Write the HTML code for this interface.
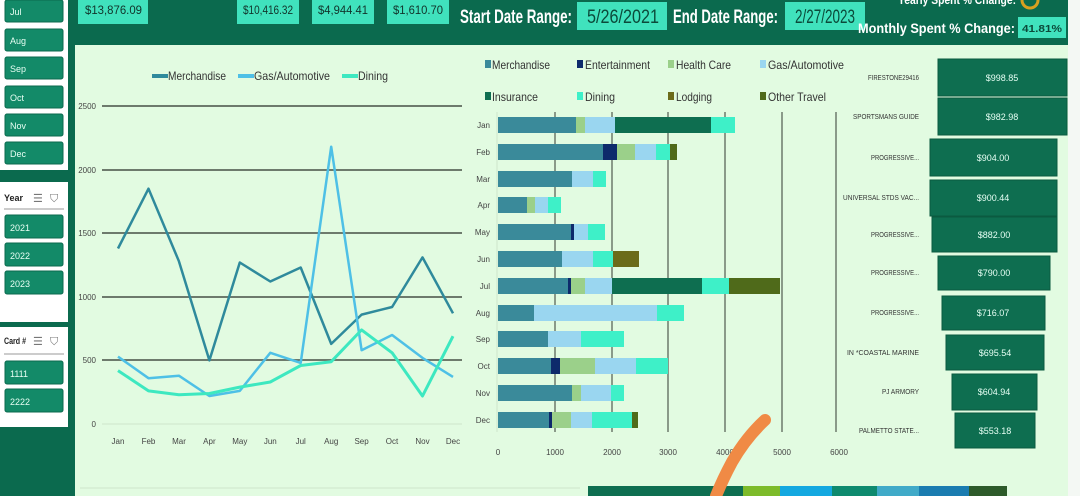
<!DOCTYPE html>
<html><head><meta charset="utf-8"><style>
html,body{margin:0;padding:0;background:#0b6a4e;}
svg{display:block;font-family:"Liberation Sans Narrow","Liberation Sans",sans-serif;}
</style></head><body>
<svg width="1080" height="496" viewBox="0 0 1080 496" xmlns="http://www.w3.org/2000/svg">
<rect width="1080" height="496" fill="#0b6a4e"/>
<rect x="75" y="45" width="993" height="451" fill="#e2fbe1"/>
<rect x="1068" y="0" width="12" height="496" fill="#f4f8f4"/>
<rect x="0" y="0" width="68" height="170" fill="#ffffff"/>
<rect x="0" y="182" width="68" height="140" fill="#ffffff"/>
<rect x="0" y="327" width="68" height="100" fill="#ffffff"/>
<g fill="#138a68" stroke="#0b6a4e" stroke-width="1">
<rect x="5" y="0" width="58" height="22" rx="2"/>
<rect x="5" y="29" width="58" height="22" rx="2"/>
<rect x="5" y="57" width="58" height="22" rx="2"/>
<rect x="5" y="86" width="58" height="22" rx="2"/>
<rect x="5" y="114" width="58" height="22" rx="2"/>
<rect x="5" y="142" width="58" height="22" rx="2"/>
<rect x="5" y="215" width="58" height="23" rx="2"/>
<rect x="5" y="243" width="58" height="23" rx="2"/>
<rect x="5" y="271" width="58" height="23" rx="2"/>
<rect x="5" y="361" width="58" height="23" rx="2"/>
<rect x="5" y="389" width="58" height="23" rx="2"/>
</g>
<g fill="#e8fff4" font-size="9">
<text x="10" y="15">Jul</text><text x="10" y="44">Aug</text><text x="10" y="72">Sep</text>
<text x="10" y="101">Oct</text><text x="10" y="129">Nov</text><text x="10" y="157">Dec</text>
<text x="10" y="231">2021</text><text x="10" y="259">2022</text><text x="10" y="287">2023</text>
<text x="10" y="377">1111</text><text x="10" y="405">2222</text>
</g>
<g font-size="9" font-weight="bold" fill="#222">
<text x="4" y="201">Year</text><text x="4" y="344" textLength="22" lengthAdjust="spacingAndGlyphs">Card #</text>
</g>
<g font-size="11" fill="#777"><text x="33" y="202">☰</text><text x="50" y="202">⛉</text><text x="33" y="345">☰</text><text x="50" y="345">⛉</text></g>
<line x1="4" y1="209" x2="64" y2="209" stroke="#ccc" stroke-width="2"/>
<line x1="4" y1="354" x2="64" y2="354" stroke="#ccc" stroke-width="2"/>

<g fill="#40e2bd">
<rect x="78" y="0" width="70" height="24"/><rect x="237" y="0" width="62" height="24"/>
<rect x="312" y="0" width="62" height="24"/><rect x="387" y="0" width="62" height="24"/>
<rect x="577" y="2" width="90" height="28"/><rect x="785" y="2" width="80" height="28"/>
<rect x="1018" y="17" width="48" height="21"/>
</g>
<g fill="#11332a" font-size="12">
<text x="85" y="14" textLength="57" lengthAdjust="spacingAndGlyphs">$13,876.09</text>
<text x="243" y="14" textLength="50" lengthAdjust="spacingAndGlyphs">$10,416.32</text>
<text x="318" y="14" textLength="50" lengthAdjust="spacingAndGlyphs">$4,944.41</text>
<text x="393" y="14" textLength="50" lengthAdjust="spacingAndGlyphs">$1,610.70</text></g>
<g fill="#0b4a3a" font-size="19">
<text x="587" y="23" textLength="72" lengthAdjust="spacingAndGlyphs">5/26/2021</text>
<text x="795" y="23" textLength="60" lengthAdjust="spacingAndGlyphs">2/27/2023</text></g>
<text x="1022" y="32" fill="#0b4a3a" font-size="10" font-weight="bold" textLength="40" lengthAdjust="spacingAndGlyphs">41.81%</text>
<g fill="#ffffff" font-weight="bold">
<text x="460" y="23" font-size="19" textLength="112" lengthAdjust="spacingAndGlyphs">Start Date Range:</text>
<text x="673" y="23" font-size="19" textLength="105" lengthAdjust="spacingAndGlyphs">End Date Range:</text>
<text x="858" y="33" font-size="14" textLength="157" lengthAdjust="spacingAndGlyphs">Monthly Spent % Change:</text>
<text x="898" y="4" font-size="12" textLength="118" lengthAdjust="spacingAndGlyphs">Yearly Spent % Change:</text></g>
<circle cx="1030" cy="0" r="8" fill="none" stroke="#d8a020" stroke-width="3"/>

<g stroke="#6d7a6c" stroke-width="2">
<line x1="102" y1="106" x2="462" y2="106"/><line x1="102" y1="170" x2="462" y2="170"/>
<line x1="102" y1="233" x2="462" y2="233"/><line x1="102" y1="297" x2="462" y2="297"/>
<line x1="102" y1="360" x2="462" y2="360"/></g>
<line x1="102" y1="424" x2="462" y2="424" stroke="#cfe6cc" stroke-width="1"/>
<g font-size="8" fill="#444" text-anchor="end"><text x="96" y="109">2500</text><text x="96" y="173">2000</text><text x="96" y="236">1500</text><text x="96" y="300">1000</text><text x="96" y="363">500</text><text x="96" y="427">0</text></g>
<g font-size="8" fill="#444" text-anchor="middle">
<text x="118" y="444">Jan</text><text x="148.5" y="444">Feb</text><text x="179" y="444">Mar</text><text x="209.4" y="444">Apr</text><text x="239.8" y="444">May</text><text x="270.3" y="444">Jun</text><text x="300.7" y="444">Jul</text><text x="331.2" y="444">Aug</text><text x="361.6" y="444">Sep</text><text x="392" y="444">Oct</text><text x="422.5" y="444">Nov</text><text x="453" y="444">Dec</text></g>
<g fill="none" stroke-linejoin="round">
<polyline stroke="#2f8a9c" stroke-width="2.5" points="118,248.5 148.5,188.7 178.9,261.2 209.4,360.4 239.8,262.5 270.3,281.5 300.7,267.5 331.2,343.9 361.6,314.6 392.1,307 422.5,257.4 453,313.3"/>
<polyline stroke="#4ec0e6" stroke-width="2.5" points="118,356.6 148.5,378.2 178.9,375.7 209.4,396 239.8,390.9 270.3,352.8 300.7,362.9 331.2,146.7 361.6,350.2 392.1,335 422.5,357.9 453,376.9"/>
<polyline stroke="#3de8c0" stroke-width="3" points="118,370.6 148.5,390.9 178.9,394.7 209.4,393.5 239.8,387.1 270.3,382 300.7,365.5 331.2,361.7 361.6,329.9 392.1,352.8 422.5,396 453,336.2"/>
</g>
<g stroke-width="4"><line x1="152" y1="76" x2="168" y2="76" stroke="#2f8a9c"/><line x1="238" y1="76" x2="254" y2="76" stroke="#4ec0e6"/><line x1="342" y1="76" x2="358" y2="76" stroke="#3de8c0"/></g>
<g font-size="12" fill="#333">
<text x="168" y="80" textLength="58" lengthAdjust="spacingAndGlyphs">Merchandise</text>
<text x="254" y="80" textLength="76" lengthAdjust="spacingAndGlyphs">Gas/Automotive</text>
<text x="358" y="80" textLength="30" lengthAdjust="spacingAndGlyphs">Dining</text></g>

<g font-size="12" fill="#333">
<rect x="485" y="60" width="6" height="8" fill="#3a8a9a"/><text x="492" y="69" textLength="58" lengthAdjust="spacingAndGlyphs">Merchandise</text>
<rect x="577" y="60" width="6" height="8" fill="#0d2a6b"/><text x="585" y="69" textLength="65" lengthAdjust="spacingAndGlyphs">Entertainment</text>
<rect x="668" y="60" width="6" height="8" fill="#9bd08a"/><text x="676" y="69" textLength="55" lengthAdjust="spacingAndGlyphs">Health Care</text>
<rect x="760" y="60" width="6" height="8" fill="#9ad6f0"/><text x="768" y="69" textLength="76" lengthAdjust="spacingAndGlyphs">Gas/Automotive</text>
<rect x="485" y="92" width="6" height="8" fill="#0e6e50"/><text x="492" y="101" textLength="46" lengthAdjust="spacingAndGlyphs">Insurance</text>
<rect x="577" y="92" width="6" height="8" fill="#3ef0c8"/><text x="585" y="101" textLength="30" lengthAdjust="spacingAndGlyphs">Dining</text>
<rect x="668" y="92" width="6" height="8" fill="#6b6b1a"/><text x="676" y="101" textLength="36" lengthAdjust="spacingAndGlyphs">Lodging</text>
<rect x="760" y="92" width="6" height="8" fill="#4f6a1a"/><text x="768" y="101" textLength="58" lengthAdjust="spacingAndGlyphs">Other Travel</text>
</g>
<g stroke="#6d7a6c" stroke-width="1.5"><line x1="555" y1="112" x2="555" y2="432"/><line x1="612" y1="112" x2="612" y2="432"/><line x1="668" y1="112" x2="668" y2="432"/><line x1="725" y1="112" x2="725" y2="432"/><line x1="782" y1="112" x2="782" y2="432"/><line x1="836" y1="112" x2="836" y2="432"/></g>
<line x1="497" y1="112" x2="497" y2="432" stroke="#cfe6cc"/>
<g font-size="8" fill="#444" text-anchor="middle"><text x="498" y="455">0</text><text x="555" y="455">1000</text><text x="612" y="455">2000</text><text x="668" y="455">3000</text><text x="725" y="455">4000</text><text x="782" y="455">5000</text><text x="839" y="455">6000</text></g>
<g font-size="8" fill="#444" text-anchor="end"><text x="490" y="128">Jan</text><text x="490" y="155">Feb</text><text x="490" y="182">Mar</text><text x="490" y="208">Apr</text><text x="490" y="235">May</text><text x="490" y="262">Jun</text><text x="490" y="289">Jul</text><text x="490" y="316">Aug</text><text x="490" y="342">Sep</text><text x="490" y="369">Oct</text><text x="490" y="396">Nov</text><text x="490" y="423">Dec</text></g>
<g>
<rect x="498" y="117" width="78" height="16" fill="#3a8a9a"/><rect x="576" y="117" width="9" height="16" fill="#9bd08a"/><rect x="585" y="117" width="30" height="16" fill="#9ad6f0"/><rect x="615" y="117" width="96" height="16" fill="#0e6e50"/><rect x="711" y="117" width="24" height="16" fill="#3ef0c8"/>
<rect x="498" y="144" width="105" height="16" fill="#3a8a9a"/><rect x="603" y="144" width="14" height="16" fill="#0d2a6b"/><rect x="617" y="144" width="18" height="16" fill="#9bd08a"/><rect x="635" y="144" width="21" height="16" fill="#9ad6f0"/><rect x="656" y="144" width="14" height="16" fill="#3ef0c8"/><rect x="670" y="144" width="7" height="16" fill="#4f6a1a"/>
<rect x="498" y="171" width="74" height="16" fill="#3a8a9a"/><rect x="572" y="171" width="21" height="16" fill="#9ad6f0"/><rect x="593" y="171" width="13" height="16" fill="#3ef0c8"/>
<rect x="498" y="197" width="29" height="16" fill="#3a8a9a"/><rect x="527" y="197" width="8" height="16" fill="#9bd08a"/><rect x="535" y="197" width="13" height="16" fill="#9ad6f0"/><rect x="548" y="197" width="13" height="16" fill="#3ef0c8"/>
<rect x="498" y="224" width="73" height="16" fill="#3a8a9a"/><rect x="571" y="224" width="3" height="16" fill="#0d2a6b"/><rect x="574" y="224" width="14" height="16" fill="#9ad6f0"/><rect x="588" y="224" width="17" height="16" fill="#3ef0c8"/>
<rect x="498" y="251" width="64" height="16" fill="#3a8a9a"/><rect x="562" y="251" width="31" height="16" fill="#9ad6f0"/><rect x="593" y="251" width="20" height="16" fill="#3ef0c8"/><rect x="613" y="251" width="26" height="16" fill="#6b6b1a"/>
<rect x="498" y="278" width="70" height="16" fill="#3a8a9a"/><rect x="568" y="278" width="3" height="16" fill="#0d2a6b"/><rect x="571" y="278" width="14" height="16" fill="#9bd08a"/><rect x="585" y="278" width="27" height="16" fill="#9ad6f0"/><rect x="612" y="278" width="90" height="16" fill="#0e6e50"/><rect x="702" y="278" width="27" height="16" fill="#3ef0c8"/><rect x="729" y="278" width="51" height="16" fill="#4f6a1a"/>
<rect x="498" y="305" width="36" height="16" fill="#3a8a9a"/><rect x="534" y="305" width="123" height="16" fill="#9ad6f0"/><rect x="657" y="305" width="27" height="16" fill="#3ef0c8"/>
<rect x="498" y="331" width="50" height="16" fill="#3a8a9a"/><rect x="548" y="331" width="33" height="16" fill="#9ad6f0"/><rect x="581" y="331" width="43" height="16" fill="#3ef0c8"/>
<rect x="498" y="358" width="53" height="16" fill="#3a8a9a"/><rect x="551" y="358" width="9" height="16" fill="#0d2a6b"/><rect x="560" y="358" width="35" height="16" fill="#9bd08a"/><rect x="595" y="358" width="41" height="16" fill="#9ad6f0"/><rect x="636" y="358" width="32" height="16" fill="#3ef0c8"/>
<rect x="498" y="385" width="74" height="16" fill="#3a8a9a"/><rect x="572" y="385" width="9" height="16" fill="#9bd08a"/><rect x="581" y="385" width="30" height="16" fill="#9ad6f0"/><rect x="611" y="385" width="13" height="16" fill="#3ef0c8"/>
<rect x="498" y="412" width="51" height="16" fill="#3a8a9a"/><rect x="549" y="412" width="3" height="16" fill="#0d2a6b"/><rect x="552" y="412" width="19" height="16" fill="#9bd08a"/><rect x="571" y="412" width="21" height="16" fill="#9ad6f0"/><rect x="592" y="412" width="40" height="16" fill="#3ef0c8"/><rect x="632" y="412" width="6" height="16" fill="#4f6a1a"/>
</g>

<g fill="#0e6e50" stroke="#0b5a40" stroke-width="1">
<rect x="938" y="59" width="129" height="37"/><rect x="938" y="98" width="129" height="37"/>
<rect x="930" y="139" width="127" height="37"/><rect x="930" y="180" width="127" height="36"/>
<rect x="932" y="217" width="125" height="35"/><rect x="938" y="256" width="112" height="34"/>
<rect x="942" y="296" width="103" height="34"/><rect x="946" y="335" width="98" height="35"/>
<rect x="952" y="374" width="85" height="36"/><rect x="955" y="413" width="80" height="35"/>
</g>
<g fill="#e6fff4" font-size="9" text-anchor="middle">
<text x="1002" y="81">$998.85</text><text x="1002" y="120">$982.98</text><text x="993" y="161">$904.00</text><text x="993" y="201">$900.44</text><text x="994" y="238">$882.00</text><text x="994" y="276">$790.00</text><text x="993" y="316">$716.07</text><text x="995" y="356">$695.54</text><text x="994" y="395">$604.94</text><text x="995" y="434">$553.18</text>
</g>
<g fill="#333" font-size="7" text-anchor="end">
<text x="919" y="80" textLength="51" lengthAdjust="spacingAndGlyphs">FIRESTONE29416</text>
<text x="919" y="119" textLength="66" lengthAdjust="spacingAndGlyphs">SPORTSMANS GUIDE</text>
<text x="919" y="160" textLength="48" lengthAdjust="spacingAndGlyphs">PROGRESSIVE...</text>
<text x="919" y="200" textLength="76" lengthAdjust="spacingAndGlyphs">UNIVERSAL STDS VAC...</text>
<text x="919" y="237" textLength="48" lengthAdjust="spacingAndGlyphs">PROGRESSIVE...</text>
<text x="919" y="275" textLength="48" lengthAdjust="spacingAndGlyphs">PROGRESSIVE...</text>
<text x="919" y="315" textLength="48" lengthAdjust="spacingAndGlyphs">PROGRESSIVE...</text>
<text x="919" y="355" textLength="72" lengthAdjust="spacingAndGlyphs">IN *COASTAL MARINE</text>
<text x="919" y="394" textLength="37" lengthAdjust="spacingAndGlyphs">PJ ARMORY</text>
<text x="919" y="433" textLength="60" lengthAdjust="spacingAndGlyphs">PALMETTO STATE...</text>
</g>

<line x1="80" y1="488" x2="580" y2="488" stroke="#cfe6cc" stroke-width="1"/>
<rect x="588" y="486" width="155" height="10" fill="#0e6e50"/>
<rect x="743" y="486" width="37" height="10" fill="#7dbb2a"/>
<rect x="780" y="486" width="52" height="10" fill="#14a8e0"/>
<rect x="832" y="486" width="45" height="10" fill="#0e8a6e"/>
<rect x="877" y="486" width="42" height="10" fill="#40aac8"/>
<rect x="919" y="486" width="50" height="10" fill="#1a7cb0"/>
<rect x="969" y="486" width="38" height="10" fill="#2d5a2a"/>
<path d="M765,420 C752,432 740,448 732,462 C725,475 720,486 716,496" fill="none" stroke="#f08a45" stroke-width="12" stroke-linecap="round"/>
</svg>
</body></html>
